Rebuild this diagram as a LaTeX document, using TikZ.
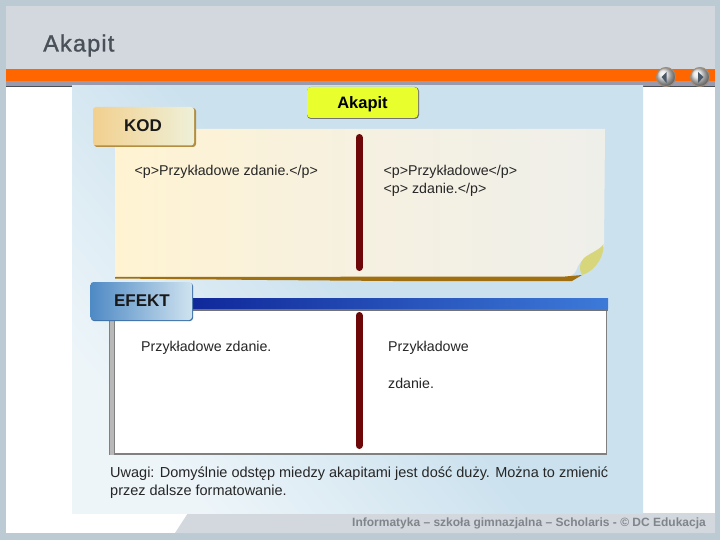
\documentclass[tikz,border=0pt]{standalone}
\usepackage{fontspec}
\setmainfont{Liberation Sans}
\newfontfamily\titlefont[FakeBold=1.2,LetterSpace=5]{Liberation Sans}
\definecolor{outerbg}{HTML}{BCCAD3}
\definecolor{headbg}{HTML}{D3D8DF}
\definecolor{orangebar}{HTML}{FF6600}
\definecolor{greyband}{HTML}{9A9AAE}
\definecolor{skyblue}{HTML}{CBE1EE}
\definecolor{skypale}{HTML}{EDF5F9}
\definecolor{creamA}{HTML}{FFF3D2}
\definecolor{creamB}{HTML}{EFEFEA}
\definecolor{maroon}{HTML}{6E0808}
\definecolor{goldline}{HTML}{A07010}
\definecolor{titlegrey}{HTML}{4A5058}
\definecolor{footgrey}{HTML}{7F858B}
\definecolor{kodL}{HTML}{F2D08F}
\definecolor{kodR}{HTML}{EEF0D8}
\definecolor{efL}{HTML}{4F8AC5}
\definecolor{efR}{HTML}{CFE3EF}
\definecolor{efEdge}{HTML}{3C6EA8}
\definecolor{barL}{HTML}{10289A}
\definecolor{barR}{HTML}{3D7AD8}
\definecolor{tabyellow}{HTML}{E9FF2D}
\definecolor{leaf}{HTML}{D8D67A}
\definecolor{navtri}{HTML}{4A5868}
\tikzset{
  px/.style={x=1pt,y=-1pt},
  txt/.style={inner sep=0pt,anchor=base west,font=\fontsize{14.2}{16}\selectfont,text=black!85},
  notetxt/.style={inner sep=0pt,anchor=base west,font=\fontsize{14.5}{16}\selectfont,text=black!85},
  divider/.style={line width=7pt,color=maroon,line cap=round},
  tabtext/.style={inner sep=0pt,font=\bfseries\fontsize{17}{19}\selectfont,text=black!90},
  navbtn/.style={circle,minimum size=19pt,inner sep=0pt,draw=black!50!brown!60,line width=1pt,shading=ball,ball color=black!12},
}
\begin{document}
\begin{tikzpicture}[px]
\useasboundingbox (0,0) rectangle (720,540);
\fill[outerbg] (0,0) rectangle (720,540);
\fill[white] (6,86) rectangle (715,533);
\fill[headbg] (6,6) rectangle (715,69);
\fill[orangebar] (6,69) rectangle (715,81);
\fill[greyband] (6,81) rectangle (715,86);
\draw[titlegrey,line width=1pt] (6,86.5) -- (72,86.5) (643,86.5) -- (715,86.5);
% footer
\fill[headbg] (188,513) -- (715,513) -- (715,533) -- (175,533) -- cycle;
% blue panel
\shade[top color=skyblue,bottom color=skypale,shading angle=-50,middle color=skyblue] (72,86) rectangle (643,513);
\node[inner sep=0pt,anchor=base west,font=\titlefont\fontsize{23.5}{25}\selectfont,text=titlegrey] (title) at (43,51.5) {Akapit};
% yellow tab
\fill[black!55,rounded corners=4pt] (307,87) rectangle (419,119);
\fill[tabyellow,rounded corners=4pt] (307,87) rectangle (418,118);
\node[inner sep=0pt,font=\bfseries\fontsize{16.5}{18}\selectfont,text=black] (head) at (362.5,104) {Akapit};
% code sheet
\shade[left color=creamA,right color=creamB,middle color=creamB!60!creamA] (115,129) -- (605,129) -- (604,247) .. controls (595,250) and (582,258) .. (578,266) .. controls (576,272) and (574,276) .. (566,277) -- (115,277) -- cycle;
\fill[leaf] (603.5,244) .. controls (600,250) and (590,253) .. (584,258) .. controls (579,263) and (579,270) .. (582,275) .. controls (590,273) and (604,262) .. cycle;
\fill[goldline] (115,277) -- (565,276.5) -- (582,275) -- (572,281) -- (393,281) -- (267,280) -- (115,278.5) -- cycle;
% KOD tab
\fill[goldline!80!white,rounded corners=3pt] (94,108) rectangle (196,147);
\shade[left color=kodL,right color=kodR,rounded corners=3pt] (93,107) rectangle (194,145.5);
\node[tabtext] (kod) at (143,125.5) {KOD};
% code texts
\node[txt] (c1) at (134.5,176) {<p>Przykładowe zdanie.</p>};
\node[txt] (c2) at (383.5,176) {<p>Przykładowe</p>};
\node[txt] (c3) at (383.5,194) {<p> zdanie.</p>};
\draw[divider] (359,137.5) -- (359,267.5);
% effect box
\fill[white] (109,309) rectangle (607,455);
\draw[black!50,line width=1.5pt] (600,310) -- (606.5,310) -- (606.5,454) -- (110,454);
\fill[black!28] (109,320) rectangle (114.5,455);
\fill[black!50] (109,320) rectangle (110,455);
\fill[black!50] (114,320) rectangle (115,455);
\fill[black!55] (192,308) rectangle (608,311);
\shade[left color=barL,right color=barR] (192,298) rectangle (608,308.5);
\fill[efEdge,rounded corners=3pt] (91,283) rectangle (193,321);
\shade[left color=efL,right color=efR,rounded corners=3pt] (90.5,282) rectangle (192,320);
\node[tabtext] (efekt) at (142,301) {EFEKT};
\node[txt] (e1) at (141,351.5) {Przykładowe zdanie.};
\node[txt] (e2) at (388,351.5) {Przykładowe};
\node[txt] (e3) at (388,388.5) {zdanie.};
\draw[divider] (359,315.5) -- (359,445.5);
% note
\node[notetxt] (n1) at (110,477) {Uwagi: Domyślnie odstęp miedzy akapitami jest dość duży. Można to zmienić};
\node[notetxt] (n2) at (110,495) {przez dalsze formatowanie.};
% footer text
\node[inner sep=0pt,anchor=base east,font=\bfseries\fontsize{12}{14}\selectfont,text=footgrey] (foot) at (706,526) {Informatyka – szkoła gimnazjalna – Scholaris - © DC Edukacja};
% nav
\node[navbtn] (prev) at (666,77) {};
\node[navbtn] (next) at (700,77) {};
\fill[navtri] (661.5,77) -- (666.5,72) -- (666.5,83) -- cycle;
\fill[navtri] (703.5,77) -- (698,72) -- (698,83) -- cycle;
\end{tikzpicture}
\end{document}
